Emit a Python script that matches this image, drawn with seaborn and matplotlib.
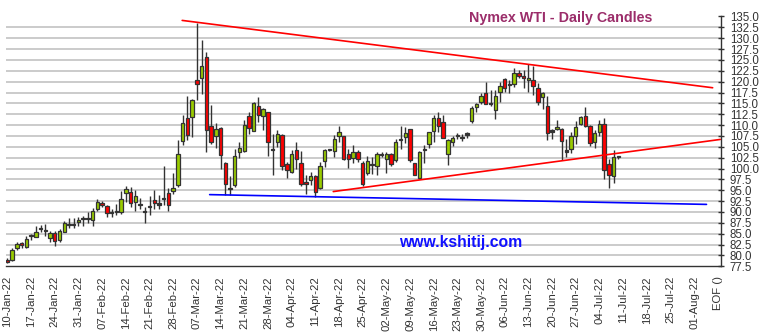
import numpy as np
import pandas as pd
import matplotlib
matplotlib.use("Agg")
import matplotlib.pyplot as plt
import seaborn as sns

# ---------------- data ----------------
start_date = "2022-01-10"
opens = [79.0, 79.0, 81.6, 82.9, 81.9, 84.6, 84.3, 86.0, 85.8, 83.9,
         85.1, 83.5, 85.5, 87.1, 87.1, 87.6, 88.5, 88.4, 88.1, 90.8,
         92.0, 91.3, 90.0, 90.1, 89.9, 94.3, 94.6, 92.4, 91.9, 90.1,
         91.3, 92.7, 91.8, 93.1, 94.4, 94.8, 96.3, 106.4, 111.7, 111.9,
         120.4, 120.9, 125.6, 109.8, 107.4, 109.4, 101.3, 95.6, 96.3, 103.7,
         104.1, 112.1, 108.7, 114.4, 112.1, 113.1, 104.5, 106.2, 107.7, 101.0,
         99.1, 104.3, 101.2, 97.0, 97.3, 98.4, 95.6, 101.7, 104.4, 104.0,
         107.6, 107.5, 103.3, 102.5, 103.7, 101.2, 98.9, 100.9, 100.7, 103.3,
         102.3, 103.4, 101.9, 106.8, 107.2, 109.0, 101.3, 97.8, 104.4, 105.7,
         108.6, 111.7, 110.8, 103.3, 106.2, 107.7, 107.3, 108.0, 110.9, 114.1,
         115.3, 117.4, 115.1, 113.5, 117.6, 120.6, 119.4, 119.5, 122.0, 121.4,
         120.3, 120.4, 118.6, 116.4, 114.5, 108.7, 109.2, 109.1, 104.1, 104.5,
         107.5, 110.3, 112.0, 109.7, 106.1, 108.4, 110.3, 101.1, 98.4, 102.8]
highs = [79.3, 81.7, 83.1, 83.2, 84.4, 85.0, 86.7, 87.0, 87.3, 85.6,
         85.7, 86.1, 88.0, 88.6, 88.7, 88.8, 89.0, 89.9, 90.9, 93.1,
         92.5, 91.6, 90.6, 91.8, 94.8, 95.9, 95.7, 95.0, 93.3, 91.1,
         93.6, 95.0, 93.8, 100.5, 95.5, 98.9, 106.6, 112.4, 116.6, 116.0,
         133.6, 129.5, 126.9, 114.7, 110.5, 109.6, 101.6, 98.2, 104.4, 106.2,
         111.2, 113.1, 115.4, 116.4, 114.0, 113.1, 107.9, 108.9, 107.9, 101.4,
         104.3, 106.0, 104.0, 98.5, 99.3, 98.6, 101.4, 104.6, 104.6, 107.7,
         109.8, 107.6, 104.5, 105.4, 104.2, 101.7, 102.9, 102.7, 103.8, 103.7,
         103.8, 103.6, 106.8, 109.8, 109.5, 109.0, 101.3, 104.0, 105.5, 108.5,
         112.4, 113.1, 112.4, 106.8, 107.6, 108.1, 107.9, 108.5, 114.5, 115.0,
         117.4, 120.0, 118.0, 118.0, 119.9, 120.8, 120.3, 123.2, 122.7, 122.8,
         124.1, 123.7, 119.6, 117.7, 116.6, 109.0, 111.1, 109.3, 106.8, 108.5,
         110.9, 112.2, 114.1, 110.0, 108.8, 111.1, 111.6, 102.1, 104.3, 103.0]
lows = [78.3, 78.8, 81.3, 81.6, 81.7, 83.6, 84.2, 85.3, 84.5, 83.0,
        82.1, 83.2, 85.3, 86.3, 86.4, 86.7, 86.8, 87.4, 86.8, 90.3,
        91.2, 88.8, 88.8, 89.2, 89.5, 92.2, 91.1, 90.2, 90.7, 87.4,
        89.4, 90.6, 90.7, 91.5, 90.2, 94.2, 95.7, 105.5, 106.6, 107.2,
        115.8, 117.2, 103.8, 105.7, 104.7, 100.0, 93.9, 94.0, 95.8, 102.5,
        103.8, 108.0, 108.6, 110.7, 108.8, 103.0, 98.5, 104.9, 99.7, 97.8,
        98.9, 100.0, 96.0, 94.1, 96.2, 93.5, 95.4, 100.3, 104.1, 102.7,
        106.2, 102.0, 100.2, 101.2, 101.6, 95.9, 98.5, 98.8, 98.6, 102.6,
        99.0, 100.7, 101.6, 104.4, 105.8, 101.6, 98.5, 97.6, 101.3, 104.8,
        106.2, 108.4, 107.1, 100.9, 105.3, 106.9, 106.3, 107.1, 110.4, 113.0,
        114.9, 114.9, 114.4, 111.4, 115.3, 117.7, 117.4, 118.8, 120.8, 118.5,
        117.6, 117.0, 114.7, 113.6, 106.5, 106.8, 108.8, 101.9, 102.6, 103.6,
        105.7, 110.0, 109.5, 105.2, 104.8, 107.6, 97.7, 95.5, 96.7, 102.2]
closes = [78.6, 81.3, 82.6, 82.4, 83.8, 84.7, 85.4, 86.2, 85.6, 85.1,
          83.4, 85.7, 87.4, 87.0, 87.3, 88.1, 88.5, 88.5, 90.3, 92.2,
          91.5, 89.7, 89.9, 90.2, 93.1, 95.4, 92.0, 93.6, 91.6, 90.0,
          91.4, 92.1, 91.9, 93.2, 91.7, 95.6, 103.4, 110.5, 107.8, 115.7,
          119.5, 123.6, 108.9, 106.2, 109.2, 103.2, 96.5, 95.2, 103.0, 104.7,
          110.0, 109.4, 115.0, 112.4, 113.8, 106.2, 104.3, 107.9, 100.5, 99.6,
          103.3, 102.2, 96.4, 96.4, 98.3, 94.5, 100.5, 104.3, 104.3, 106.9,
          108.3, 102.3, 102.3, 103.7, 102.3, 96.5, 101.7, 100.8, 103.4, 103.2,
          103.4, 101.1, 106.2, 106.7, 108.2, 102.0, 98.6, 103.8, 104.3, 108.5,
          111.7, 109.8, 107.1, 106.6, 107.1, 107.6, 107.2, 107.9, 114.0, 114.9,
          116.8, 114.9, 115.0, 116.8, 118.9, 118.6, 119.3, 122.0, 121.4, 120.8,
          120.9, 118.9, 115.3, 117.4, 108.2, 108.6, 109.5, 106.3, 104.0, 107.6,
          109.5, 111.8, 109.7, 105.9, 108.2, 110.3, 99.7, 98.6, 102.6, 102.7]

# trend lines (x in trading-day positions from start_date, y in price)
upper_trend_x = [36.9, 148.9]
upper_trend_y = [134.1, 118.6]
lower_trend_x = [68.8, 150.5]
lower_trend_y = [94.7, 106.7]
support_x = [42.7, 147.6]
support_y = [94.0, 91.75]

tick_start, tick_end = "2022-01-10", "2022-08-01"
last_label = "EOF ()"
title = "Nymex WTI - Daily Candles"
watermark = "www.kshitij.com"

# ---------------- build ----------------
dates = pd.bdate_range(start_date, periods=len(opens))
df = pd.DataFrame({"date": dates, "open": opens, "high": highs,
                   "low": lows, "close": closes})
df["pos"] = np.busday_count(np.datetime64(start_date),
                            df["date"].values.astype("datetime64[D]"))
df["up"] = df["close"] >= df["open"]

tick_dates = pd.date_range(tick_start, tick_end, freq="7D")
tick_pos = list(np.busday_count(np.datetime64(start_date),
                                tick_dates.values.astype("datetime64[D]")))
tick_pos.append(tick_pos[-1] + 5)
tick_labels = [d.strftime("%d-%b-%y") for d in tick_dates] + [last_label]

sns.set_theme(style="white")
plt.rcParams["font.family"] = ["Liberation Sans", "DejaVu Sans"]

fig = plt.figure(figsize=(7.62, 3.32), dpi=100)
ax = fig.add_axes([6 / 762, 1 - 266.3 / 332, (720.7 - 6) / 762, (266.3 - 16.5) / 332])

yt = np.arange(77.5, 135.01, 2.5)
for yv in yt[1:]:
    ax.axhline(yv, color="#bdbdbd", lw=1.1, zorder=0)

dark = "#333333"
ax.vlines(df["pos"], df["low"], df["high"], color=dark, lw=1.0, zorder=2)
body_bottom = np.minimum(df["open"], df["close"])
body_h = (df["close"] - df["open"]).abs()
min_h = 0.25
bb = np.where(body_h < min_h, (df["open"] + df["close"]) / 2 - min_h / 2, body_bottom)
bh = np.maximum(body_h, min_h)
colors = np.where(df["up"], "#99cc00", "#ff0000")
colors = np.where(body_h < min_h, dark, colors)
ax.bar(df["pos"], bh, bottom=bb, width=0.72, color=colors,
       edgecolor=dark, linewidth=0.9, zorder=3)

sns.lineplot(x=upper_trend_x, y=upper_trend_y, ax=ax, color="#ff0000", lw=1.2, zorder=4)
sns.lineplot(x=lower_trend_x, y=lower_trend_y, ax=ax, color="#ff0000", lw=1.2, zorder=4)
sns.lineplot(x=support_x, y=support_y, ax=ax, color="#0000ff", lw=1.2, zorder=4)

ax.set_xlim(-0.3, 150.6)
ax.set_ylim(77.5, 135)
ax.set_xticks(tick_pos)
ax.set_xticklabels(tick_labels, rotation=90, fontsize=8.2, color="#333333")
ax.yaxis.tick_right()
ax.set_yticks(yt)
ax.set_yticklabels([f"{v:.1f}" for v in yt], fontsize=8.3, color="#333333")
ax.tick_params(axis="y", direction="inout", length=5, width=1, color=dark, pad=4)
ax.tick_params(axis="x", direction="out", length=4, width=1, color=dark, pad=3)
for s in ["top", "left"]:
    ax.spines[s].set_visible(False)
for s in ["right", "bottom"]:
    ax.spines[s].set_color(dark)
    ax.spines[s].set_linewidth(1.0)
ax.set_xlabel("")
ax.set_ylabel("")
ax.grid(False)

fig.text(561 / 762, 1 - 18 / 332, title, ha="center", va="center",
         fontsize=10.3, fontweight="bold", color="#9b2d6a")
fig.text(461 / 762, 1 - 242 / 332, watermark, ha="center", va="center",
         fontsize=11.3, fontweight="bold", color="#1010ff")

fig.savefig("out.png", dpi=100)
